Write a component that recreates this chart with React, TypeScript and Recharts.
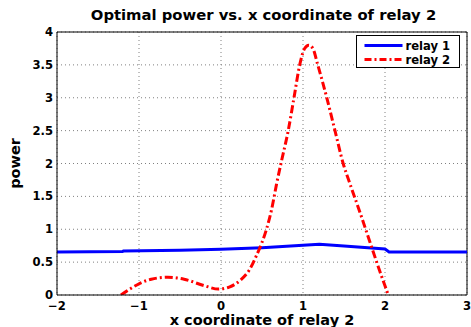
import React from 'react'
import {
  LineChart,
  Line,
  XAxis,
  YAxis,
  CartesianGrid,
  Legend,
  ReferenceLine,
} from 'recharts'

const relay1X = [-2, -1.2, -1.19, -0.5, 0, 0.5, 1, 1.2, 1.5, 2.0, 2.05, 3]
const relay1Y = [0.655, 0.66, 0.67, 0.68, 0.695, 0.72, 0.755, 0.77, 0.745, 0.7, 0.655, 0.655]

const relay2X = [
  -1.22, -1.1, -1.0, -0.85, -0.65, -0.45, -0.2, -0.03, 0.1, 0.24, 0.345, 0.436, 0.497,
  0.557, 0.617, 0.678, 0.74, 0.82, 0.89, 0.96, 1.02, 1.07, 1.12, 1.18, 1.29, 1.39,
  1.49, 1.573, 1.694, 1.815, 1.937, 2.04,
]
const relay2Y = [
  0, 0.1, 0.17, 0.24, 0.27, 0.24, 0.14, 0.09, 0.12, 0.23, 0.38, 0.61, 0.79,
  1.01, 1.3, 1.69, 2.05, 2.5, 3.0, 3.5, 3.75, 3.8, 3.75, 3.5, 3.0, 2.5,
  2.0, 1.69, 1.26, 0.81, 0.36, 0,
]

const xTicks = [-2, -1, 0, 1, 2, 3]
const yTicks = [0, 0.5, 1, 1.5, 2, 2.5, 3, 3.5, 4]

const relay1Data = relay1X.map((x, i) => ({ x, y: relay1Y[i] }))
const relay2Data = relay2X.map((x, i) => ({ x, y: relay2Y[i] }))

const font = '"DejaVu Sans", sans-serif'
const tickStyle = { fontFamily: font, fontWeight: 'bold', fontSize: 11.6, fill: '#000' }
const labelStyle = { fontFamily: font, fontWeight: 'bold', fontSize: 14.5, fill: '#000' }

function LegendBox() {
  return (
    <svg width={105} height={34} style={{ display: 'block' }}>
      <rect x={0.5} y={0.5} width={103} height={32} fill="#fff" stroke="#000" />
      <line x1={8.5} x2={46.5} y1={10.5} y2={10.5} stroke="#0000ff" strokeWidth={3} />
      <text x={49.5} y={14.6} style={tickStyle}>relay 1</text>
      <line
        x1={8.5}
        x2={46.5}
        y1={24.5}
        y2={24.5}
        stroke="#ff0000"
        strokeWidth={3}
        strokeDasharray="7 3 2 3"
      />
      <text x={49.5} y={28.8} style={tickStyle}>relay 2</text>
    </svg>
  )
}

const fmt = (v: number) => String(v).replace('-', '\u2212')

export default function App() {
  return (
    <div style={{ position: 'absolute', left: 0, top: 0, width: 471, height: 327, background: '#fff' }}>
      <div
        style={{
          position: 'absolute',
          left: 56,
          top: 7,
          width: 415,
          textAlign: 'center',
          whiteSpace: 'nowrap',
          fontFamily: font,
          fontWeight: 'bold',
          fontSize: 14.8,
          lineHeight: '15px',
          zIndex: 2,
        }}
      >
        Optimal power vs. x coordinate of relay 2
      </div>
      <LineChart width={471} height={327} margin={{ top: 32, right: 4, bottom: 0, left: 0 }}>
        <CartesianGrid stroke="#808080" strokeDasharray="1 3" />
        <XAxis
          type="number"
          dataKey="x"
          domain={[-2, 3]}
          ticks={xTicks}
          allowDataOverflow
          height={32}
          tickLine={false}
          tickSize={5}
          tickMargin={2}
          tick={tickStyle}
          tickFormatter={fmt}
          axisLine={{ stroke: '#000' }}
          label={{ value: 'x coordinate of relay 2', position: 'insideBottom', offset: 2, style: labelStyle }}
        />
        <YAxis
          type="number"
          dataKey="y"
          domain={[0, 4]}
          ticks={yTicks}
          allowDataOverflow
          width={57}
          tickLine={false}
          tickSize={3}
          tickMargin={1}
          tick={tickStyle}
          tickFormatter={fmt}
          axisLine={{ stroke: '#000' }}
          label={{
            value: 'power',
            angle: -90,
            position: 'insideLeft',
            offset: 15,
            style: { ...labelStyle, textAnchor: 'middle' },
          }}
        />
        <ReferenceLine y={4} stroke="#000" />
        <ReferenceLine x={3} stroke="#000" />
        <Line
          data={relay1Data}
          dataKey="y"
          name="relay 1"
          type="linear"
          stroke="#0000ff"
          strokeWidth={3}
          dot={false}
          activeDot={false}
          isAnimationActive={false}
        />
        <Line
          data={relay2Data}
          dataKey="y"
          name="relay 2"
          type="monotone"
          stroke="#ff0000"
          strokeWidth={3}
          strokeDasharray="8 3 2 3"
          dot={false}
          activeDot={false}
          isAnimationActive={false}
        />
        <Legend
          layout="vertical"
          align="center"
          verticalAlign="middle"
          content={() => <LegendBox />}
          wrapperStyle={{ left: 356, top: 35, width: 105, height: 34 }}
        />
      </LineChart>
    </div>
  )
}
